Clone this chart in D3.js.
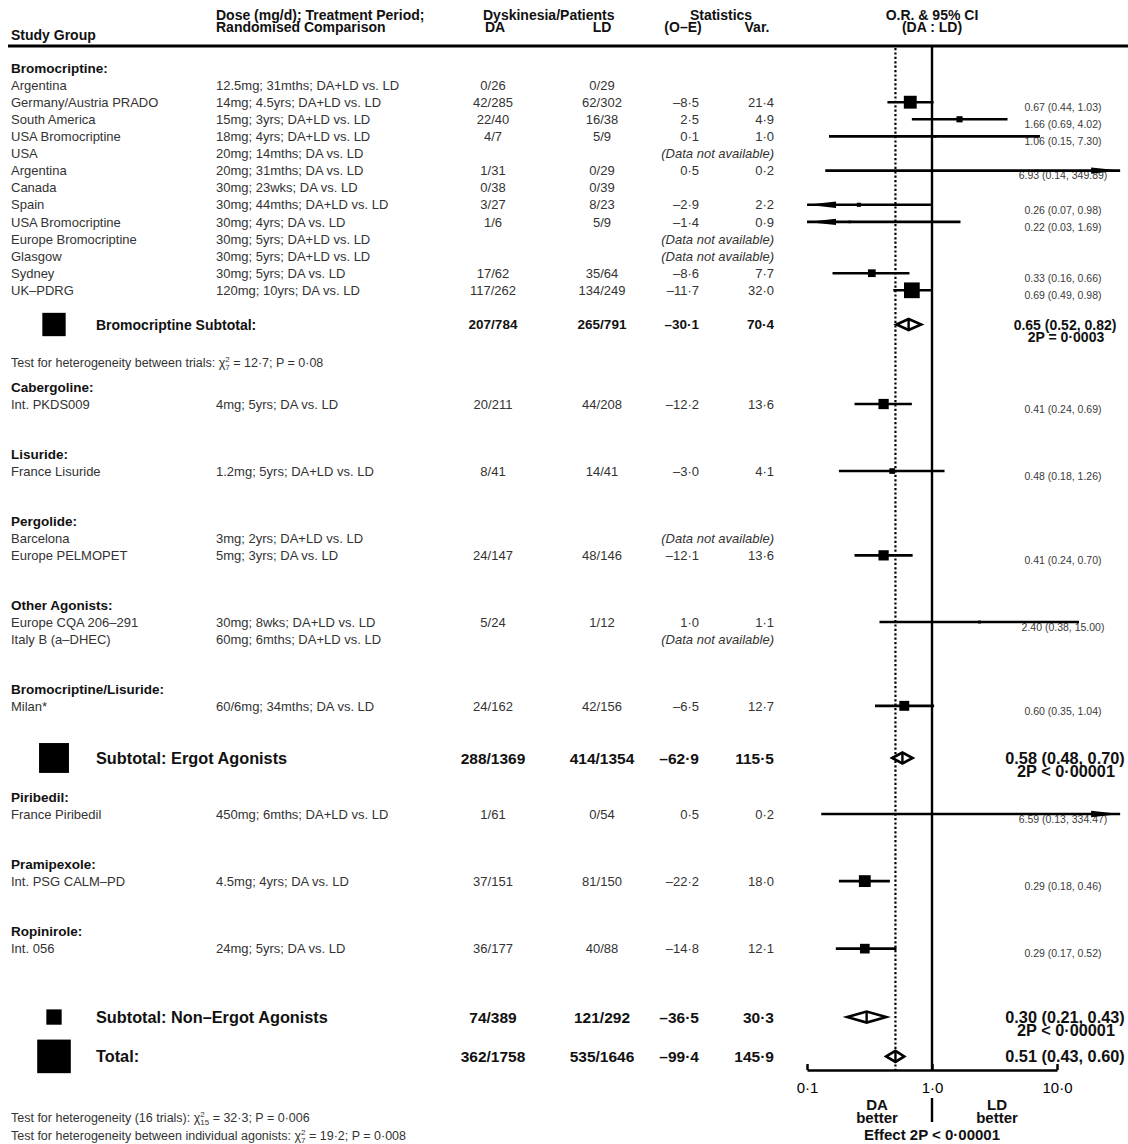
<!DOCTYPE html>
<html>
<head>
<meta charset="utf-8">
<script src="https://cdn.jsdelivr.net/npm/d3@7"></script>
<style>
  body { margin: 0; background: #fff; }
  svg { display: block; }
  text { font-family: "Liberation Sans", Arial, Helvetica, sans-serif; }
</style>
</head>
<body>
<svg id="chart" width="1128" height="1144"></svg>
<script>
// ---------- data ----------
const groupNames = ["Bromocriptine:", "Cabergoline:", "Lisuride:", "Pergolide:", "Other Agonists:",
  "Bromocriptine/Lisuride:", "Piribedil:", "Pramipexole:", "Ropinirole:"];

const studyGroup = [0,0,0,0,0,0,0,0,0,0,0,0,0, 1, 2, 3,3, 4,4, 5, 6, 7, 8];

const studyNames = ["Argentina", "Germany/Austria PRADO", "South America", "USA Bromocriptine", "USA",
  "Argentina", "Canada", "Spain", "USA Bromocriptine", "Europe Bromocriptine", "Glasgow", "Sydney",
  "UK\u2013PDRG", "Int. PKDS009", "France Lisuride", "Barcelona", "Europe PELMOPET",
  "Europe CQA 206\u2013291", "Italy B (a\u2013DHEC)", "Milan*", "France Piribedil",
  "Int. PSG CALM\u2013PD", "Int. 056"];

const studyDoses = ["12.5mg; 31mths; DA+LD vs. LD", "14mg; 4.5yrs; DA+LD vs. LD", "15mg; 3yrs; DA+LD vs. LD",
  "18mg; 4yrs; DA+LD vs. LD", "20mg; 14mths; DA vs. LD", "20mg; 31mths; DA vs. LD", "30mg; 23wks; DA vs. LD",
  "30mg; 44mths; DA+LD vs. LD", "30mg; 4yrs; DA vs. LD", "30mg; 5yrs; DA+LD vs. LD", "30mg; 5yrs; DA+LD vs. LD",
  "30mg; 5yrs; DA vs. LD", "120mg; 10yrs; DA vs. LD", "4mg; 5yrs; DA vs. LD", "1.2mg; 5yrs; DA+LD vs. LD",
  "3mg; 2yrs; DA+LD vs. LD", "5mg; 3yrs; DA vs. LD", "30mg; 8wks; DA+LD vs. LD", "60mg; 6mths; DA+LD vs. LD",
  "60/6mg; 34mths; DA vs. LD", "450mg; 6mths; DA+LD vs. LD", "4.5mg; 4yrs; DA vs. LD", "24mg; 5yrs; DA vs. LD"];

const daEvents = ["0/26","42/285","22/40","4/7","","1/31","0/38","3/27","1/6","","","17/62","117/262",
  "20/211","8/41","","24/147","5/24","","24/162","1/61","37/151","36/177"];
const ldEvents = ["0/29","62/302","16/38","5/9","","0/29","0/39","8/23","5/9","","","35/64","134/249",
  "44/208","14/41","","48/146","1/12","","42/156","0/54","81/150","40/88"];

const notAvailable = [false,false,false,false,true,false,false,false,false,true,true,false,false,
  false,false,true,false,false,true,false,false,false,false];

const obsMinusExp = [null,-8.5,2.5,0.1,null,0.5,null,-2.9,-1.4,null,null,-8.6,-11.7,
  -12.2,-3.0,null,-12.1,1.0,null,-6.5,0.5,-22.2,-14.8];
const variances = [null,21.4,4.9,1.0,null,0.2,null,2.2,0.9,null,null,7.7,32.0,
  13.6,4.1,null,13.6,1.1,null,12.7,0.2,18.0,12.1];
const oddsRatios = [null,0.67,1.66,1.06,null,6.93,null,0.26,0.22,null,null,0.33,0.69,
  0.41,0.48,null,0.41,2.40,null,0.60,6.59,0.29,0.29];
const ciLower = [null,0.44,0.69,0.15,null,0.14,null,0.07,0.03,null,null,0.16,0.49,
  0.24,0.18,null,0.24,0.38,null,0.35,0.13,0.18,0.17];
const ciUpper = [null,1.03,4.02,7.30,null,349.89,null,0.98,1.69,null,null,0.66,0.98,
  0.69,1.26,null,0.70,15.00,null,1.04,334.47,0.46,0.52];

const subtotalNames = ["Bromocriptine Subtotal:", "Subtotal: Ergot Agonists",
  "Subtotal: Non\u2013Ergot Agonists", "Total:"];
const subtotalDa = ["207/784", "288/1369", "74/389", "362/1758"];
const subtotalLd = ["265/791", "414/1354", "121/292", "535/1646"];
const subtotalOE = [-30.1, -62.9, -36.5, -99.4];
const subtotalVar = [70.4, 115.5, 30.3, 145.9];
const subtotalOR = [0.65, 0.58, 0.30, 0.51];
const subtotalLo = [0.52, 0.48, 0.21, 0.43];
const subtotalHi = [0.82, 0.70, 0.43, 0.60];
const subtotalP = ["2P = 0\u00b70003", "2P < 0\u00b700001", "2P < 0\u00b700001", ""];

// heterogeneity notes: [lead text, chi df, rest]
const heteroNotes = [
  ["Test for heterogeneity between trials: ", "7", " = 12\u00b77; P = 0\u00b708"],
  ["Test for heterogeneity (16 trials): ", "15", " = 32\u00b73; P = 0\u00b7006"],
  ["Test for heterogeneity between individual agonists: ", "7", " = 19\u00b72; P = 0\u00b7008"]
];

const axisTicks = [0.1, 1, 10];
const axisTickLabels = ["0\u00b71", "1\u00b70", "10\u00b70"];

// ---------- layout (line units) ----------
const groupLine = [0, 18.65, 22.57, 26.5, 31.4, 36.3, 42.63, 46.55, 50.5];
const subtotalLine = [15, 40.35, 55.5, 57.8];
const noteLine = [17.25, 61.4, 62.45];
const axisLine = 58.6;

const W = 1128, H = 1144;
const svg = d3.select("#chart");
svg.append("rect").attr("width", W).attr("height", H).attr("fill", "#fff");

const yLine = d3.scaleLinear().domain([0, 1]).range([68, 85.1]);
const xOR = d3.scaleLog().domain([0.1, 10]).range([807, 1057]);
const clipLo = 0.1, clipHi = 32;
const boxSide = d3.scaleSqrt().domain([0, 145.9]).range([0, 33.6]);

const col = { name: 11, dose: 216, da: 493, ld: 602, oe: 699, vr: 774, ci: 1063, sub: 1065 };
const FONT = { body: 13, group: 13.5, ci: 10.5 };

const fmtStat = v => (v < 0 ? "\u2013" : "") + Math.abs(v).toFixed(1).replace(".", "\u00b7");
const fmtOR = v => v.toFixed(2);

function txt(sel, x, y, s, o = {}) {
  return sel.append("text")
    .attr("x", x).attr("y", y).attr("dy", "0.36em")
    .attr("text-anchor", o.anchor || "start")
    .attr("font-size", o.size || FONT.body)
    .attr("font-weight", o.bold ? "bold" : "normal")
    .attr("font-style", o.italic ? "italic" : "normal")
    .attr("fill", o.fill || (o.bold ? "#111" : "#333"))
    .text(s);
}

const gText = svg.append("g");
const gRef = svg.append("g");
const gMarks = svg.append("g");

// ---------- header ----------
txt(gText, col.name, 35, "Study Group", { bold: true, size: 14 });
txt(gText, col.dose, 15, "Dose (mg/d); Treatment Period;", { bold: true, size: 14 });
txt(gText, col.dose, 27, "Randomised Comparison", { bold: true, size: 14 });
txt(gText, 483, 15, "Dyskinesia/Patients", { bold: true, size: 14 });
txt(gText, 495, 27, "DA", { bold: true, size: 14, anchor: "middle" });
txt(gText, col.ld, 27, "LD", { bold: true, size: 14, anchor: "middle" });
txt(gText, 721, 15, "Statistics", { bold: true, size: 14, anchor: "middle" });
txt(gText, 683, 27, "(O\u2013E)", { bold: true, size: 14, anchor: "middle" });
txt(gText, 757, 27, "Var.", { bold: true, size: 14, anchor: "middle" });
txt(gText, xOR(1), 15, "O.R. & 95% CI", { bold: true, size: 14, anchor: "middle" });
txt(gText, xOR(1), 27, "(DA : LD)", { bold: true, size: 14, anchor: "middle" });
gRef.append("line").attr("x1", 8).attr("x2", W).attr("y1", 46).attr("y2", 46)
  .attr("stroke", "#000").attr("stroke-width", 3);

// ---------- reference lines ----------
const axisY = yLine(axisLine);
gRef.append("line").attr("x1", xOR(1)).attr("x2", xOR(1)).attr("y1", 47).attr("y2", axisY)
  .attr("stroke", "#000").attr("stroke-width", 2.4);
gRef.append("line").attr("x1", xOR(subtotalOR[3])).attr("x2", xOR(subtotalOR[3]))
  .attr("y1", 48).attr("y2", axisY)
  .attr("stroke", "#000").attr("stroke-width", 2.2).attr("stroke-dasharray", "2.2,2.2");

// ---------- marks ----------
function ciMark(y, or, lo, hi, v) {
  const a = xOR(Math.max(lo, clipLo)), b = xOR(Math.min(hi, clipHi));
  gMarks.append("line").attr("x1", a).attr("x2", b).attr("y1", y).attr("y2", y)
    .attr("stroke", "#000").attr("stroke-width", 2.6);
  if (lo < clipLo) {
    gMarks.append("path").attr("d", `M${a},${y}L${a + 29},${y - 3.2}L${a + 29},${y + 3.2}Z`).attr("fill", "#000");
  }
  if (hi > clipHi) {
    gMarks.append("path").attr("d", `M${b},${y}L${b - 29},${y - 3.2}L${b - 29},${y + 3.2}Z`).attr("fill", "#000");
  }
  const s = Math.max(boxSide(v), 2);
  gMarks.append("rect").attr("x", xOR(or) - s / 2).attr("y", y - s / 2)
    .attr("width", s).attr("height", s).attr("fill", "#000");
}

function diamond(y, or, lo, hi) {
  const h = 5.5;
  gMarks.append("path")
    .attr("d", `M${xOR(lo)},${y}L${xOR(or)},${y - h}L${xOR(hi)},${y}L${xOR(or)},${y + h}Z`)
    .attr("fill", "#fff").attr("stroke", "#000").attr("stroke-width", 2.6).attr("stroke-linejoin", "miter");
  gMarks.append("line").attr("x1", xOR(or)).attr("x2", xOR(or)).attr("y1", y - h).attr("y2", y + h)
    .attr("stroke", "#000").attr("stroke-width", 2.4);
}

// ---------- groups and studies ----------
groupNames.forEach((g, gi) => {
  txt(gText, col.name, yLine(groupLine[gi]), g, { bold: true, size: FONT.group });
  const members = studyGroup.map((sg, i) => sg === gi ? i : -1).filter(i => i >= 0);
  members.forEach((i, k) => {
    const y = yLine(groupLine[gi] + 1 + k);
    txt(gText, col.name, y, studyNames[i]);
    txt(gText, col.dose, y, studyDoses[i]);
    if (daEvents[i]) txt(gText, col.da, y, daEvents[i], { anchor: "middle" });
    if (ldEvents[i]) txt(gText, col.ld, y, ldEvents[i], { anchor: "middle" });
    if (notAvailable[i]) {
      txt(gText, col.vr, y, "(Data not available)", { anchor: "end", italic: true });
    } else if (obsMinusExp[i] !== null) {
      txt(gText, col.oe, y, fmtStat(obsMinusExp[i]), { anchor: "end" });
      txt(gText, col.vr, y, fmtStat(variances[i]), { anchor: "end" });
    }
    if (oddsRatios[i] !== null) {
      txt(gText, col.ci, y + 5, `${fmtOR(oddsRatios[i])} (${fmtOR(ciLower[i])}, ${fmtOR(ciUpper[i])})`,
        { anchor: "middle", size: FONT.ci, fill: "#3a3a3a" });
      ciMark(y, oddsRatios[i], ciLower[i], ciUpper[i], variances[i]);
    }
  });
});

// ---------- subtotals ----------
subtotalNames.forEach((name, i) => {
  const y = yLine(subtotalLine[i]);
  const big = i > 0;
  const s = boxSide(subtotalVar[i]);
  gMarks.append("rect").attr("x", 54 - s / 2).attr("y", y - s / 2).attr("width", s).attr("height", s).attr("fill", "#000");
  const fs = big ? 16.3 : 14;
  const ns = big ? 15.5 : 13.5;
  txt(gText, 96, y, name, { bold: true, size: fs });
  txt(gText, col.da, y, subtotalDa[i], { bold: true, size: ns, anchor: "middle" });
  txt(gText, col.ld, y, subtotalLd[i], { bold: true, size: ns, anchor: "middle" });
  txt(gText, col.oe, y, fmtStat(subtotalOE[i]), { bold: true, size: ns, anchor: "end" });
  txt(gText, col.vr, y, fmtStat(subtotalVar[i]), { bold: true, size: ns, anchor: "end" });
  txt(gText, col.sub, y, `${fmtOR(subtotalOR[i])} (${fmtOR(subtotalLo[i])}, ${fmtOR(subtotalHi[i])})`,
    { bold: true, size: fs, anchor: "middle" });
  if (subtotalP[i]) txt(gText, col.sub + 1, y + (big ? 13 : 12.5), subtotalP[i], { bold: true, size: fs, anchor: "middle" });
  diamond(y, subtotalOR[i], subtotalLo[i], subtotalHi[i]);
});

// ---------- heterogeneity notes ----------
heteroNotes.forEach((n, i) => {
  const t = gText.append("text").attr("x", col.name).attr("y", yLine(noteLine[i])).attr("dy", "0.36em")
    .attr("font-size", 12.5).attr("fill", "#333");
  t.append("tspan").text(n[0] + "\u03c7");
  t.append("tspan").attr("font-size", 8).attr("dy", -5).text("2");
  t.append("tspan").attr("font-size", 8).attr("dx", -4.5).attr("dy", 8).text(n[1]);
  t.append("tspan").attr("dy", -3).text(n[2]);
});

// ---------- axis ----------
const axis = d3.axisBottom(xOR).tickValues(axisTicks).tickSizeInner(-6).tickSizeOuter(0)
  .tickPadding(12).tickFormat((d, i) => axisTickLabels[i]);
const gAxis = svg.append("g").attr("transform", `translate(0,${axisY})`).call(axis);
gAxis.select(".domain").attr("stroke", "#000").attr("stroke-width", 2.5);
gAxis.selectAll(".tick line").attr("stroke", "#000").attr("stroke-width", 2.5);
gAxis.selectAll(".tick text").attr("font-size", 15).attr("fill", "#000")
  .attr("font-family", "\"Liberation Sans\", Arial, Helvetica, sans-serif");

txt(gText, 877, 1105, "DA", { bold: true, size: 15, anchor: "middle" });
txt(gText, 877, 1118, "better", { bold: true, size: 15, anchor: "middle" });
txt(gText, 997, 1105, "LD", { bold: true, size: 15, anchor: "middle" });
txt(gText, 997, 1118, "better", { bold: true, size: 15, anchor: "middle" });
gRef.append("line").attr("x1", xOR(1)).attr("x2", xOR(1)).attr("y1", 1098).attr("y2", 1122)
  .attr("stroke", "#000").attr("stroke-width", 2.4);
txt(gText, xOR(1), 1135, "Effect 2P < 0\u00b700001", { bold: true, size: 15, anchor: "middle" });
</script>
</body>
</html>
